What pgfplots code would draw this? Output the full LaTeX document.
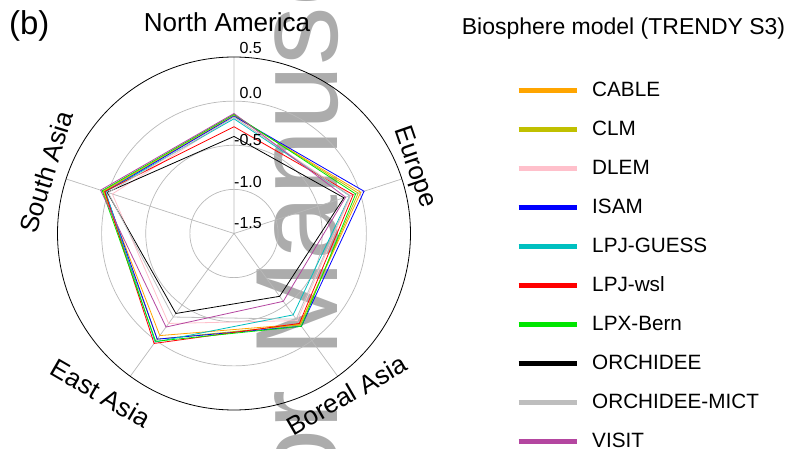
\documentclass[border=0pt]{standalone}
\usepackage{pgfplots}
\pgfplotsset{compat=1.18}
\usepackage{pgfplotstable}
\usepgfplotslibrary{polar}
\usepackage{fontspec}
\setmainfont{Liberation Sans}
\definecolor{cCABLE}{RGB}{255,165,0}
\definecolor{cCLM}{RGB}{192,192,0}
\definecolor{cDLEM}{RGB}{255,192,203}
\definecolor{cISAM}{RGB}{0,0,255}
\definecolor{cGUESS}{RGB}{0,192,192}
\definecolor{cWSL}{RGB}{255,0,0}
\definecolor{cBERN}{RGB}{0,230,0}
\definecolor{cORC}{RGB}{0,0,0}
\definecolor{cMICT}{RGB}{190,190,190}
\definecolor{cVISIT}{RGB}{180,70,160}
\definecolor{wm}{RGB}{172,172,172}
\definecolor{gridc}{RGB}{185,185,185}

% angle: North America 90, Europe 18, Boreal Asia 306, East Asia 234, South Asia 162
\pgfplotstableread{
angle CABLE CLM DLEM ISAM GUESS WSL BERN ORC MICT VISIT
90  -0.17 -0.16 -0.18 -0.17 -0.20 -0.29 -0.15 -0.40 -0.18 -0.14
18   0.01 -0.02 -0.11  0.05 -0.12 -0.08 -0.05 -0.19 -0.12 -0.17
306 -0.23 -0.22 -0.28 -0.20 -0.36 -0.24 -0.20 -0.62 -0.30 -0.55
234 -0.07 -0.02 -0.24 -0.02  0.02  0.04  0.01 -0.38 -0.33 -0.19
162  0.05  0.06 -0.05  0.035 0.03  0.04  0.07  0.01  0.00  0.09
90  -0.17 -0.16 -0.18 -0.17 -0.20 -0.29 -0.15 -0.40 -0.18 -0.14
}\radar

\begin{document}
\begin{tikzpicture}
\useasboundingbox (-234pt,-215.5pt) rectangle (567pt,233.5pt);
% watermark
\node[rotate=90, anchor=base west, text=wm, inner sep=0pt,
      font=\fontsize{117}{117}\selectfont] at (103pt,-124.5pt) {Manuscript};
\node[rotate=90, anchor=base east, text=wm, inner sep=0pt,
      font=\fontsize{117}{117}\selectfont] at (103pt,-157pt) {Author};
\begin{polaraxis}[
  at={(0pt,0pt)}, anchor=center,
  scale only axis, width=353pt, height=353pt,
  ymin=0, ymax=2,
  xtick={18,90,162,234,306}, xticklabels={},
  ytick={0.5,1,1.5}, yticklabels={},
  major tick length=0pt,
  xmajorgrids, ymajorgrids,
  major grid style={draw=gridc, line width=0.7pt},
  x axis line style={black, line width=0.8pt},
  y axis line style={draw=none},
  clip=false,
  every axis plot/.append style={line width=0.8pt, mark=none},
  legend image code/.code={\draw[#1, line width=5pt] (0pt,0pt) -- (58pt,0pt);},
  legend cell align=left,
  legend style={at={(1.299,0.930)}, anchor=north west, draw=none, fill=none,
    inner sep=0pt, row sep=22.5pt,
    font=\fontsize{20.7}{24}\selectfont,
    nodes={inner sep=0pt},
    /tikz/every even column/.append style={text height=15pt, text depth=0pt},
    /tikz/every odd column/.append style={column sep=13pt}},
]
\addplot[cCABLE] table[x=angle, y expr=\thisrow{CABLE}+1.5] {\radar};
\addlegendentry{CABLE}
\addplot[cCLM] table[x=angle, y expr=\thisrow{CLM}+1.5] {\radar};
\addlegendentry{CLM}
\addplot[cDLEM] table[x=angle, y expr=\thisrow{DLEM}+1.5] {\radar};
\addlegendentry{DLEM}
\addplot[cISAM] table[x=angle, y expr=\thisrow{ISAM}+1.5] {\radar};
\addlegendentry{ISAM}
\addplot[cGUESS] table[x=angle, y expr=\thisrow{GUESS}+1.5] {\radar};
\addlegendentry{LPJ-GUESS}
\addplot[cWSL] table[x=angle, y expr=\thisrow{WSL}+1.5] {\radar};
\addlegendentry{LPJ-wsl}
\addplot[cBERN] table[x=angle, y expr=\thisrow{BERN}+1.5] {\radar};
\addlegendentry{LPX-Bern}
\addplot[cORC] table[x=angle, y expr=\thisrow{ORC}+1.5] {\radar};
\addlegendentry{ORCHIDEE}
\addplot[cMICT] table[x=angle, y expr=\thisrow{MICT}+1.5] {\radar};
\addlegendentry{ORCHIDEE-MICT}
\addplot[cVISIT] table[x=angle, y expr=\thisrow{VISIT}+1.5] {\radar};
\addlegendentry{VISIT}
\end{polaraxis}
% radial tick labels
\begin{scope}[every node/.style={anchor=east, inner sep=0pt, font=\fontsize{16}{16}\selectfont}]
\node at (28pt,185.5pt) {0.5};
\node at (28pt,140.5pt) {0.0};
\node at (28pt,94pt) {-0.5};
\node at (28pt,51.5pt) {-1.0};
\node at (28pt,10.5pt) {-1.5};
\end{scope}
% category labels
\begin{scope}[every node/.style={anchor=center, inner sep=0pt, text depth=0pt, font=\fontsize{26}{26}\selectfont}]
\node at (-7pt,211pt) {North America};
\node[rotate=-71] at (182.7pt,66.8pt) {Europe};
\node[rotate=30] at (112.7pt,-161.3pt) {Boreal Asia};
\node[rotate=-30] at (-133.2pt,-159.8pt) {East Asia};
\node[rotate=73] at (-188pt,61.5pt) {South Asia};
\end{scope}
\node[anchor=center, inner sep=0pt, font=\fontsize{33}{33}\selectfont] at (-204.8pt,207.6pt) {(b)};
\node[anchor=base, inner sep=0pt, font=\fontsize{23}{23}\selectfont] at (389.5pt,198.5pt) {Biosphere model (TRENDY S3)};
\end{tikzpicture}
\end{document}
